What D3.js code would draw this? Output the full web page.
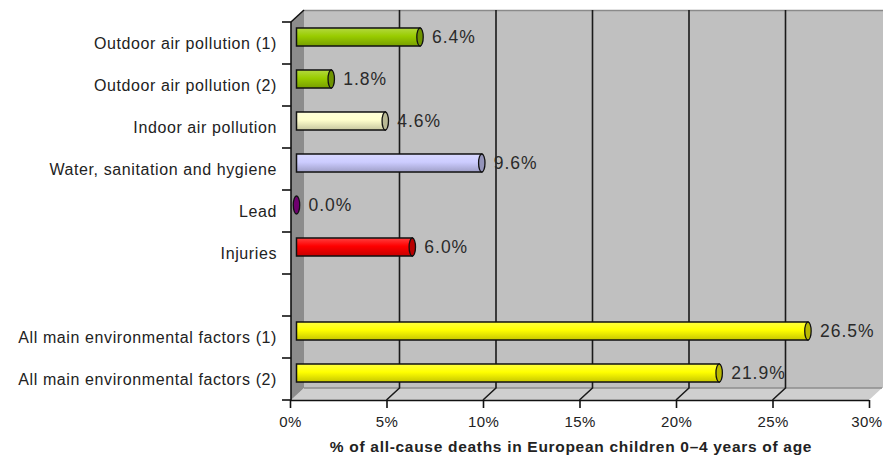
<!DOCTYPE html>
<html><head><meta charset="utf-8">
<script src="https://cdn.jsdelivr.net/npm/d3@7"></script>
<style>body{margin:0;background:#fff}svg{display:block}</style>
</head><body>
<script>
const categories = ["Outdoor air pollution (1)","Outdoor air pollution (2)","Indoor air pollution","Water, sanitation and hygiene","Lead","Injuries","","All main environmental factors (1)","All main environmental factors (2)"];
const values = [6.4, 1.8, 4.6, 9.6, 0.0, 6.0, null, 26.5, 21.9];
const barColors = ["#99cc00","#99cc00","#ffffcc","#ccccff","#990099","#ff0000",null,"#ffff00","#ffff00"];
const xTicks = [0,5,10,15,20,25,30];
const xTitle = "% of all-cause deaths in European children 0\u20134 years of age";

const W=883,H=462;
const svg=d3.select("body").append("svg").attr("width",W).attr("height",H);
const font="'Liberation Sans', Arial, sans-serif";
const dx=13, dy=-12;
const x=d3.scaleLinear().domain([0,30]).range([290,869]);
const y=d3.scaleBand().domain(d3.range(categories.length)).range([22,400]).paddingInner(0.571).paddingOuter(0.2855);
const yTop=22, yBot=400, xL=291;

const defs=svg.append("defs");
barColors.forEach((c,i)=>{
  if(!c) return;
  const g=defs.append("linearGradient").attr("id","g"+i).attr("x1",0).attr("x2",0).attr("y1",0).attr("y2",1);
  const col=d3.color(c);
  g.append("stop").attr("offset","0%").attr("stop-color",d3.interpolateRgb(c,"#ffffff")(0.25));
  g.append("stop").attr("offset","45%").attr("stop-color",c);
  g.append("stop").attr("offset","100%").attr("stop-color",col.darker(0.7));
});

// back wall
svg.append("rect").attr("x",xL+dx-1).attr("y",yTop+dy).attr("width",W-(xL+dx-1)).attr("height",yBot-yTop)
  .attr("fill","#c0c0c0");
svg.append("line").attr("x1",xL+dx).attr("x2",W).attr("y1",yTop+dy+0.5).attr("y2",yTop+dy+0.5).attr("stroke","#8a8a8a").attr("stroke-width",1.5);
// floor
svg.append("path").attr("d",`M${xL},${yBot} L${xL+dx},${yBot+dy} L${x(30)+dx},${yBot+dy} L${x(30)},${yBot} Z`).attr("fill","#cfcfcf");
svg.append("line").attr("x1",xL+dx).attr("x2",x(30)+dx).attr("y1",yBot+dy).attr("y2",yBot+dy).attr("stroke","#8e8e8e").attr("stroke-width",1.5);
// side wall
svg.append("path").attr("d",`M${xL},${yTop} L${xL+dx},${yTop+dy} L${xL+dx},${yBot+dy} L${xL},${yBot} Z`).attr("fill","#8c8c8c");
svg.append("line").attr("x1",xL).attr("y1",yTop).attr("x2",xL+dx).attr("y2",yTop+dy).attr("stroke","#111").attr("stroke-width",1.5);

// gridlines
xTicks.filter(t=>t>0&&t<30).forEach(t=>{
  svg.append("path").attr("d",`M${x(t)+dx},${yTop+dy} L${x(t)+dx},${yBot+dy} L${x(t)},${yBot}`)
    .attr("fill","none").attr("stroke","#1a1a1a").attr("stroke-width",1.6);
});

// axes
const xAxis=d3.axisBottom(x).tickValues(xTicks).tickFormat(d=>d+"%").tickSize(8).tickSizeOuter(0);
const gx=svg.append("g").attr("transform",`translate(0,${yBot})`).call(xAxis);
gx.select(".domain").attr("stroke","#111").attr("stroke-width",1.6).attr("d",`M${x(0)},0.5H${x(30)}`);
gx.selectAll(".tick line").attr("stroke","#111").attr("stroke-width",1.6);
gx.selectAll(".tick text").attr("font-family",font).attr("font-size",15).attr("letter-spacing",0.4)
  .attr("fill","#222").attr("dy","1.05em")
  .attr("text-anchor",d=>d===30?"end":"middle").attr("x",d=>d===30?13:0);

svg.append("line").attr("x1",xL).attr("x2",xL).attr("y1",yTop).attr("y2",yBot).attr("stroke","#111").attr("stroke-width",1.6);
const bounds=d3.range(categories.length+1).map(i=>yTop+i*y.step());
svg.selectAll(".ytick").data(bounds).join("line").attr("x1",xL-9).attr("x2",xL).attr("y1",d=>d).attr("y2",d=>d)
  .attr("stroke","#111").attr("stroke-width",1.6);

svg.selectAll(".cat").data(categories).join("text")
  .attr("x",277).attr("y",(d,i)=>y(i)+y.bandwidth()/2).attr("dy","0.35em")
  .attr("text-anchor","end").attr("font-family",font).attr("font-size",16).attr("letter-spacing",0.6)
  .attr("fill","#222").text(d=>d);

// bars
const bars=categories.map((c,i)=>({i,v:values[i],c:barColors[i]})).filter(d=>d.v!==null);
const bh=y.bandwidth();
const bg=svg.append("g");
bars.forEach(d=>{
  const y0=y(d.i)+dy/2, x0=x(0)+dx/2, x1=x(d.v)+dx/2;
  bg.append("rect").attr("x",x0).attr("y",y0).attr("width",Math.max(0,x1-x0)).attr("height",bh)
    .attr("fill",`url(#g${d.i})`).attr("stroke","#111").attr("stroke-width",1.5);
  bg.append("ellipse").attr("cx",x1).attr("cy",y0+bh/2).attr("rx",3.2).attr("ry",bh/2)
    .attr("fill",d3.color(d.c).darker(0.9)).attr("stroke","#111").attr("stroke-width",1.3);
  bg.append("text").attr("x",x1+12).attr("y",y0+bh/2).attr("dy","0.35em")
    .attr("font-family",font).attr("font-size",17.5).attr("letter-spacing",1)
    .attr("fill","#2a2a2a").text(d.v.toFixed(1)+"%");
});

svg.append("text").attr("x",571).attr("y",452).attr("text-anchor","middle").attr("font-family",font)
  .attr("font-size",15.5).attr("letter-spacing",0.7).attr("font-weight","bold").attr("fill","#222").text(xTitle);
</script>
</body></html>
